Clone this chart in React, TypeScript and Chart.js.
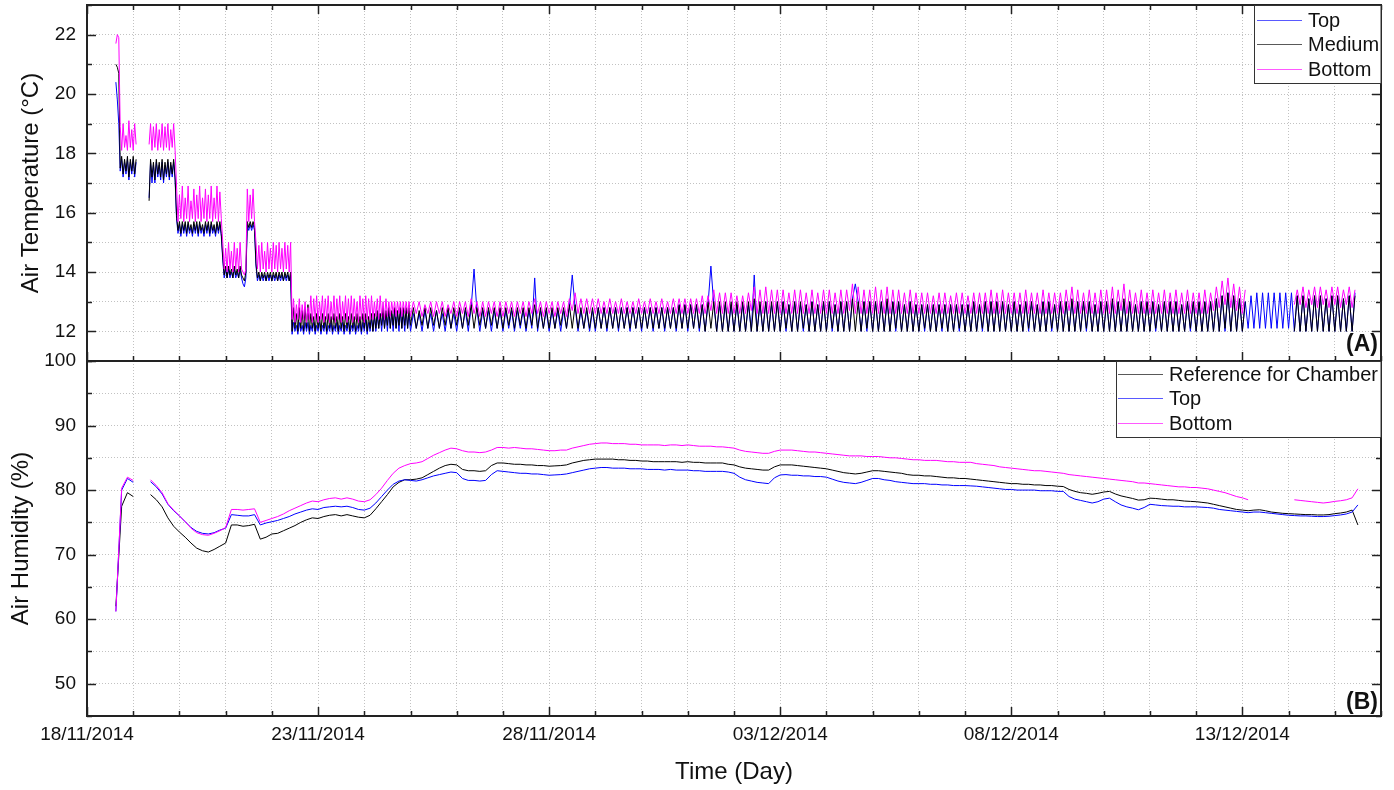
import React, { useEffect, useRef } from "react";
import { Chart, registerables } from "chart.js";

Chart.register(...registerables);

// ---------- axes ----------
const xMinDay = 0; // 18/11/2014 00:00
const xMaxDay = 28;
const xTickDays = [0, 5, 10, 15, 20, 25];
const xTickLabels = ["18/11/2014", "23/11/2014", "28/11/2014", "03/12/2014", "08/12/2014", "13/12/2014"];
const tempTickValues = [12, 14, 16, 18, 20, 22];
const humTickValues = [50, 60, 70, 80, 90, 100];

// ---------- panel A : air temperature ----------
// early part: one reading every 45 min from 18/11 15:00 to 25/11 00:00
const tempEarlyStartDay = 0.625;
const tempEarlyStepDay = 0.03125;
// late part: one reading every 1.5 h from 25/11 00:00
const tempLateStartDay = 7.0;
const tempLateStepDay = 0.0625;

const tempBottomEarly = [
  21.7, 22.0, 21.9, 18.9, 18.1, 19.0, 18.2, 18.6, 18.1, 19.1, 18.2, 18.8, 18.1, 19.0, 18.3, null,
  null, null, null, null, null, null, null, 18.3, 19.0, 18.1, 18.9, 18.2, 19.0, 18.1, 18.8, 18.2,
  19.0, 18.1, 18.9, 18.2, 19.0, 18.1, 18.8, 18.2, 19.0, 18.1, 16.9, 15.7, 16.6, 15.8, 16.9, 15.7,
  16.5, 15.8, 16.9, 15.7, 16.4, 15.8, 16.8, 15.7, 16.6, 15.8, 16.9, 15.7, 16.5, 15.8, 16.8, 15.7,
  16.6, 15.8, 16.9, 15.7, 16.5, 15.8, 16.9, 15.7, 16.7, 15.8, 15.0, 14.1, 14.8, 14.0, 15.0, 14.1,
  14.7, 14.0, 15.0, 14.1, 14.8, 14.0, 15.0, 14.1, 14.0, 13.9, 14.1, 16.8, 15.7, 16.6, 15.8, 16.8,
  15.7, 15.0, 14.1, 14.9, 14.0, 15.0, 14.1, 14.7, 14.0, 15.0, 14.1, 14.8, 14.0, 15.0, 14.1, 14.9,
  14.0, 15.0, 14.1, 14.8, 14.0, 15.0, 14.1, 14.9, 14.0, 15.0, 12.4, 13.1, 12.3, 12.9, 12.4, 13.1,
  12.3, 12.9, 12.4, 13.0, 12.3, 12.8, 12.4, 13.2, 12.3, 13.1, 12.4, 13.2, 12.3, 13.0, 12.4, 13.2,
  12.3, 13.1, 12.4, 13.2, 12.3, 13.0, 12.4, 13.2, 12.3, 13.1, 12.4, 13.2, 12.3, 13.0, 12.4, 13.2,
  12.3, 13.1, 12.4, 13.2, 12.3, 13.1, 12.4, 13.0, 12.3, 13.2, 12.4, 13.1, 12.3, 13.2, 12.4, 13.1,
  12.4, 13.2, 12.4, 13.0, 12.5, 13.1, 12.4, 13.2, 12.5, 13.0, 12.4, 13.1, 12.5, 13.0, 12.5, 13.0,
  12.6, 13.0, 12.5, 13.0, 12.6, 13.0, 12.5, 13.0, 12.6, 13.0, 12.6, 13.0,
];

const tempMediumEarly = [
  21.0, 20.9, 20.7, 17.5, 17.9, 17.3, 17.8, 17.4, 17.9, 17.2, 17.8, 17.4, 17.9, 17.3, 17.8, null,
  null, null, null, null, null, null, null, 16.4, 17.8, 17.2, 17.7, 17.1, 17.8, 17.3, 17.7, 17.2,
  17.8, 17.1, 17.7, 17.3, 17.8, 17.2, 17.7, 17.3, 17.8, 17.2, 15.9, 15.4, 15.7, 15.3, 15.7, 15.4,
  15.7, 15.3, 15.7, 15.4, 15.6, 15.3, 15.7, 15.4, 15.7, 15.3, 15.7, 15.4, 15.6, 15.3, 15.7, 15.4,
  15.7, 15.3, 15.7, 15.4, 15.6, 15.3, 15.7, 15.4, 15.7, 15.3, 14.5, 13.9, 14.2, 13.8, 14.2, 13.9,
  14.1, 13.8, 14.2, 13.9, 14.1, 13.8, 14.2, 13.9, 13.8, 13.7, 14.0, 15.7, 15.5, 15.7, 15.5, 15.7,
  15.5, 14.3, 13.8, 14.0, 13.7, 14.0, 13.8, 14.0, 13.7, 14.0, 13.8, 14.0, 13.7, 14.0, 13.8, 14.0,
  13.7, 14.0, 13.8, 14.0, 13.7, 14.0, 13.8, 14.0, 13.7, 14.0, 12.0, 12.8, 12.1, 12.6, 12.0, 12.8,
  12.1, 12.7, 12.0, 12.8, 12.1, 12.9, 12.0, 12.6, 12.1, 12.5, 12.0, 12.6, 12.1, 12.5, 12.0, 12.6,
  12.1, 12.5, 12.0, 12.6, 12.1, 12.5, 12.0, 12.6, 12.1, 12.5, 12.0, 12.6, 12.1, 12.5, 12.0, 12.6,
  12.1, 12.5, 12.0, 12.6, 12.1, 12.5, 12.0, 12.6, 12.1, 12.5, 12.0, 12.6, 12.1, 12.6, 12.0, 12.5,
  12.1, 12.6, 12.0, 12.6, 12.1, 12.7, 12.1, 12.6, 12.2, 12.8, 12.1, 12.7, 12.2, 12.8, 12.1, 12.7,
  12.2, 12.8, 12.1, 12.7, 12.2, 12.8, 12.1, 12.8, 12.2, 12.8, 12.1, 12.8,
];

const tempTopEarly = [
  20.4, 19.8, 19.0, 17.4, 17.8, 17.2, 17.7, 17.3, 17.8, 17.1, 17.7, 17.3, 17.8, 17.2, 17.7, null,
  null, null, null, null, null, null, null, 16.5, 17.7, 17.0, 17.6, 17.0, 17.7, 17.2, 17.6, 17.1,
  17.7, 17.0, 17.6, 17.2, 17.7, 17.1, 17.6, 17.2, 17.7, 17.1, 15.8, 15.3, 15.6, 15.2, 15.6, 15.3,
  15.6, 15.2, 15.6, 15.3, 15.5, 15.2, 15.6, 15.3, 15.6, 15.2, 15.6, 15.3, 15.5, 15.2, 15.6, 15.3,
  15.6, 15.2, 15.6, 15.3, 15.5, 15.2, 15.6, 15.3, 15.6, 15.2, 14.4, 13.8, 14.1, 13.8, 14.1, 13.8,
  14.0, 13.8, 14.1, 13.8, 14.0, 13.8, 14.1, 13.8, 13.6, 13.5, 13.8, 15.6, 15.4, 15.6, 15.4, 15.6,
  15.4, 14.2, 13.7, 13.9, 13.7, 13.9, 13.7, 13.9, 13.7, 13.9, 13.7, 13.9, 13.7, 13.9, 13.7, 13.9,
  13.7, 13.9, 13.7, 13.9, 13.7, 13.9, 13.7, 13.9, 13.7, 13.9, 11.9, 12.3, 12.0, 12.2, 11.9, 12.3,
  12.0, 12.2, 11.9, 12.3, 12.0, 12.3, 11.9, 12.2, 12.0, 12.3, 11.9, 12.2, 12.0, 12.3, 11.9, 12.2,
  12.0, 12.3, 11.9, 12.2, 12.0, 12.3, 11.9, 12.2, 12.0, 12.3, 11.9, 12.2, 12.0, 12.3, 11.9, 12.2,
  12.0, 12.3, 11.9, 12.2, 12.0, 12.3, 11.9, 12.2, 12.0, 12.3, 11.9, 12.3, 12.0, 12.4, 11.9, 12.3,
  12.0, 12.4, 12.0, 12.5, 12.0, 12.5, 12.1, 12.6, 12.0, 12.6, 12.1, 12.6, 12.0, 12.7, 12.1, 12.6,
  12.0, 12.7, 12.1, 12.6, 12.0, 12.7, 12.1, 12.6, 12.0, 12.7, 12.1, 12.6,
];

const tempBottomLate = [
  12.5, 13.0, 12.6, 13.0, 12.5, 12.9, 12.6, 13.0, 12.5, 13.0, 12.6, 13.0, 12.5, 12.9, 12.6, 13.0,
  12.5, 13.0, 12.6, 13.0, 12.5, 13.1, 12.6, 13.0, 12.5, 13.0, 12.5, 13.0, 12.6, 13.0, 12.5, 13.0,
  12.5, 13.0, 12.6, 13.0, 12.5, 13.0, 12.6, 13.0, 12.5, 13.0, 12.6, 13.1, 12.6, 13.0, 12.5, 13.0,
  12.6, 13.0, 12.5, 13.0, 12.6, 13.0, 12.5, 13.1, 12.7, 13.3, 12.6, 13.1, 12.6, 13.1, 12.6, 13.1,
  12.6, 13.1, 12.6, 13.0, 12.6, 13.1, 12.6, 13.0, 12.6, 13.1, 12.6, 13.0, 12.6, 13.0, 12.6, 13.1,
  12.6, 13.0, 12.6, 13.1, 12.6, 13.0, 12.6, 13.1, 12.6, 13.0, 12.6, 13.1, 12.6, 13.1, 12.6, 13.1,
  12.6, 13.1, 12.6, 13.1, 12.6, 13.2, 12.6, 13.2, 12.7, 13.4, 12.6, 13.3, 12.6, 13.3, 12.6, 13.3,
  12.6, 13.2, 12.6, 13.2, 12.6, 13.3, 12.7, 13.5, 12.6, 13.4, 12.6, 13.5, 12.6, 13.4, 12.6, 13.4,
  12.6, 13.4, 12.6, 13.3, 12.6, 13.4, 12.6, 13.4, 12.6, 13.3, 12.6, 13.4, 12.6, 13.3, 12.6, 13.4,
  12.6, 13.4, 12.6, 13.3, 12.6, 13.4, 12.6, 13.4, 12.7, 13.6, 12.6, 13.5, 12.6, 13.4, 12.6, 13.4,
  12.6, 13.5, 12.6, 13.4, 12.6, 13.5, 12.6, 13.4, 12.6, 13.4, 12.6, 13.3, 12.6, 13.4, 12.6, 13.3,
  12.6, 13.3, 12.6, 13.3, 12.6, 13.2, 12.6, 13.3, 12.6, 13.3, 12.6, 13.2, 12.6, 13.3, 12.6, 13.3,
  12.6, 13.2, 12.6, 13.3, 12.6, 13.3, 12.6, 13.3, 12.6, 13.4, 12.6, 13.3, 12.6, 13.4, 12.6, 13.3,
  12.6, 13.3, 12.6, 13.3, 12.6, 13.4, 12.6, 13.3, 12.6, 13.3, 12.6, 13.4, 12.6, 13.3, 12.6, 13.3,
  12.6, 13.3, 12.6, 13.4, 12.7, 13.5, 12.6, 13.4, 12.6, 13.3, 12.6, 13.4, 12.6, 13.3, 12.6, 13.4,
  12.6, 13.4, 12.6, 13.5, 12.6, 13.4, 12.7, 13.6, 12.6, 13.4, 12.6, 13.3, 12.6, 13.4, 12.6, 13.3,
  12.6, 13.4, 12.6, 13.3, 12.6, 13.4, 12.6, 13.3, 12.6, 13.4, 12.6, 13.3, 12.6, 13.4, 12.6, 13.3,
  12.6, 13.3, 12.6, 13.4, 12.6, 13.3, 12.7, 13.5, 12.8, 13.7, 12.9, 13.8, 12.8, 13.6, 12.7, 13.5,
  12.6, 13.4, null, null, null, null, null, null, null, null, null, null, null, null, null, null,
  null, null, 12.9, 13.4, 12.9, 13.5, 12.8, 13.4, 12.9, 13.5, 12.8, 13.5, 12.9, 13.4, 12.8, 13.5,
  12.9, 13.5, 12.8, 13.4, 12.9, 13.5, 12.8, 13.4,
];

const tempMediumLate = [
  12.2, 12.8, 12.1, 12.7, 12.2, 12.8, 12.1, 12.8, 12.2, 12.7, 12.1, 12.8, 12.2, 12.8, 12.1, 12.8,
  12.2, 12.8, 12.1, 12.8, 12.2, 12.9, 12.1, 12.8, 12.2, 12.8, 12.1, 12.8, 12.2, 12.8, 12.1, 12.8,
  12.1, 12.8, 12.2, 12.8, 12.1, 12.8, 12.2, 12.8, 12.1, 12.8, 12.2, 12.9, 12.1, 12.8, 12.1, 12.8,
  12.1, 12.8, 12.1, 12.8, 12.2, 12.8, 12.1, 12.9, 12.1, 12.9, 12.1, 12.8, 12.1, 12.8, 12.1, 12.8,
  12.1, 12.8, 12.1, 12.8, 12.1, 12.8, 12.1, 12.8, 12.1, 12.8, 12.1, 12.8, 12.1, 12.8, 12.1, 12.8,
  12.1, 12.8, 12.1, 12.8, 12.1, 12.8, 12.1, 12.8, 12.1, 12.8, 12.1, 12.8, 12.1, 12.9, 12.1, 12.9,
  12.1, 12.9, 12.1, 12.9, 12.1, 12.9, 12.0, 13.0, 12.1, 13.0, 12.0, 13.0, 12.0, 13.0, 12.0, 13.0,
  12.0, 13.0, 12.0, 13.0, 12.0, 13.0, 12.0, 13.1, 12.0, 13.0, 12.0, 13.0, 12.0, 13.0, 12.0, 13.0,
  12.0, 13.0, 12.1, 12.9, 12.0, 13.0, 12.0, 13.0, 12.1, 12.9, 12.0, 13.0, 12.0, 12.9, 12.0, 13.0,
  12.0, 13.0, 12.1, 12.9, 12.0, 13.0, 12.0, 13.0, 12.0, 13.1, 12.0, 13.0, 12.0, 13.0, 12.1, 13.0,
  12.0, 13.0, 12.0, 13.0, 12.0, 13.1, 12.0, 13.0, 12.1, 13.0, 12.0, 12.9, 12.0, 13.0, 12.0, 12.9,
  12.0, 12.9, 12.1, 12.9, 12.0, 12.9, 12.0, 12.9, 12.1, 12.9, 12.0, 12.9, 12.0, 12.9, 12.1, 12.9,
  12.0, 12.9, 12.0, 13.0, 12.0, 12.9, 12.1, 13.0, 12.0, 13.0, 12.0, 13.0, 12.0, 13.0, 12.0, 12.9,
  12.0, 13.0, 12.0, 12.9, 12.0, 13.0, 12.1, 13.0, 12.0, 12.9, 12.0, 13.0, 12.0, 13.0, 12.1, 12.9,
  12.0, 13.0, 12.0, 13.0, 12.0, 13.1, 12.0, 13.0, 12.0, 13.0, 12.1, 13.0, 12.0, 12.9, 12.0, 13.0,
  12.0, 13.0, 12.0, 13.1, 12.0, 13.0, 12.0, 13.1, 12.0, 13.0, 12.0, 12.9, 12.0, 13.0, 12.0, 13.0,
  12.0, 13.0, 12.1, 12.9, 12.0, 13.0, 12.0, 13.0, 12.0, 13.0, 12.0, 12.9, 12.0, 13.0, 12.1, 13.0,
  12.0, 13.0, 12.0, 13.0, 12.0, 13.0, 12.0, 13.1, 12.0, 13.2, 12.1, 13.3, 12.0, 13.2, 12.0, 13.1,
  12.0, 13.0, null, null, null, null, null, null, null, null, null, null, null, null, null, null,
  null, null, 12.0, 13.2, 12.0, 13.2, 12.0, 13.1, 12.0, 13.2, 12.0, 13.2, 12.0, 13.1, 12.0, 13.2,
  12.0, 13.2, 12.0, 13.1, 12.0, 13.2, 12.0, 13.2,
];

const tempTopLate = [
  12.0, 12.6, 12.1, 12.6, 12.0, 12.7, 12.1, 12.6, 12.0, 12.7, 12.1, 12.6, 12.0, 12.7, 12.1, 12.6,
  12.0, 12.7, 12.1, 12.7, 12.0, 12.8, 14.1, 12.7, 12.0, 12.7, 12.1, 12.7, 12.0, 12.7, 12.1, 12.7,
  12.0, 12.7, 12.1, 12.7, 12.0, 12.7, 12.1, 12.7, 12.0, 12.7, 12.1, 13.8, 12.0, 12.7, 12.1, 12.7,
  12.0, 12.7, 12.1, 12.7, 12.0, 12.7, 12.1, 12.8, 13.9, 12.8, 12.0, 12.7, 12.1, 12.7, 12.0, 12.7,
  12.0, 12.8, 12.1, 12.8, 12.0, 12.8, 12.1, 12.8, 12.0, 12.8, 12.1, 12.8, 12.0, 12.8, 12.1, 12.8,
  12.0, 12.8, 12.1, 12.8, 12.0, 12.8, 12.1, 12.8, 12.0, 12.8, 12.1, 12.8, 12.0, 12.9, 12.1, 12.9,
  12.0, 12.9, 12.1, 12.9, 12.0, 12.9, 12.0, 12.9, 14.2, 12.9, 12.0, 12.9, 12.0, 12.9, 12.0, 12.9,
  12.0, 12.9, 12.0, 12.9, 12.0, 12.9, 12.0, 13.9, 12.0, 12.9, 12.0, 13.0, 12.0, 12.9, 12.0, 13.0,
  12.0, 13.0, 12.0, 12.9, 12.0, 13.0, 12.0, 12.9, 12.0, 12.9, 12.0, 13.0, 12.0, 12.9, 12.0, 13.0,
  12.0, 13.0, 12.0, 12.9, 12.0, 13.0, 12.0, 13.0, 12.0, 13.1, 13.6, 13.0, 12.0, 13.0, 12.0, 13.0,
  12.0, 13.0, 12.0, 13.0, 12.0, 13.0, 12.0, 13.0, 12.0, 13.0, 12.0, 12.9, 12.0, 13.0, 12.0, 12.9,
  12.0, 12.9, 12.0, 12.9, 12.0, 12.9, 12.0, 12.9, 12.0, 12.9, 12.0, 12.9, 12.0, 12.9, 12.0, 12.9,
  12.0, 12.9, 12.0, 13.0, 12.0, 12.9, 12.0, 13.0, 12.0, 13.0, 12.0, 13.0, 12.0, 13.0, 12.0, 12.9,
  12.0, 13.0, 12.0, 12.9, 12.0, 13.0, 12.0, 13.0, 12.0, 12.9, 12.0, 13.0, 12.0, 13.0, 12.0, 12.9,
  12.0, 13.0, 12.0, 13.0, 12.0, 13.0, 12.0, 13.0, 12.0, 13.0, 12.0, 13.0, 12.0, 12.9, 12.0, 13.0,
  12.0, 13.0, 12.0, 13.0, 12.0, 13.0, 12.0, 13.0, 12.0, 13.0, 12.0, 12.9, 12.0, 13.0, 12.0, 13.0,
  12.0, 13.0, 12.0, 12.9, 12.0, 13.0, 12.0, 13.0, 12.0, 13.0, 12.0, 12.9, 12.0, 13.0, 12.0, 13.0,
  12.0, 13.0, 12.0, 13.0, 12.0, 13.0, 12.0, 13.1, 12.0, 13.2, 12.0, 13.3, 12.0, 13.2, 12.0, 13.1,
  12.0, 13.0, 12.1, 13.2, 12.1, 13.3, 12.1, 13.3, 12.1, 13.3, 12.1, 13.3, 12.1, 13.3, 12.1, 13.3,
  12.1, 13.3, 12.0, 13.2, 12.0, 13.2, 12.0, 13.1, 12.0, 13.2, 12.0, 13.2, 12.0, 13.1, 12.0, 13.2,
  12.0, 13.2, 12.0, 13.1, 12.0, 13.2, 12.0, 13.3,
];

// ---------- panel B : air humidity, one reading every 3 h from 18/11 15:00 ----------
const humStartDay = 0.625;
const humStepDay = 0.125;

const humReference = [
  62.0, 77.5, 79.6, 79.0, null, null, 79.3, 78.5,
  77.4, 75.7, 74.4, 73.5, 72.7, 71.8, 71.0, 70.6,
  70.4, 70.8, 71.3, 71.8, 74.6, 74.6, 74.4, 74.5,
  74.7, 72.4, 72.7, 73.2, 73.3, 73.7, 74.1, 74.5,
  75.0, 75.4, 75.7, 75.6, 75.9, 76.1, 76.2, 76.0,
  76.2, 76.0, 75.8, 75.7, 76.1, 77.1, 78.2, 79.3,
  80.5, 81.2, 81.6, 81.6, 81.7, 81.9, 82.4, 82.9,
  83.4, 83.8, 84.0, 83.9, 83.2, 83.0, 83.0, 82.9,
  83.0, 83.8, 84.2, 84.2, 84.1, 84.0, 84.0, 83.9,
  83.9, 83.8, 83.8, 83.7, 83.75, 83.8, 83.9, 84.2,
  84.4, 84.6, 84.7, 84.8, 84.8, 84.8, 84.8, 84.7,
  84.7, 84.6, 84.6, 84.5, 84.5, 84.4, 84.4, 84.4,
  84.4, 84.4, 84.3, 84.4, 84.3, 84.3, 84.2, 84.2,
  84.2, 84.2, 84.0, 83.9, 83.6, 83.4, 83.3, 83.2,
  83.1, 83.1, 83.6, 83.9, 83.9, 83.9, 83.8, 83.7,
  83.6, 83.5, 83.4, 83.3, 83.1, 82.9, 82.7, 82.6,
  82.5, 82.6, 82.8, 83.0, 83.0, 82.9, 82.8, 82.7,
  82.6, 82.4, 82.3, 82.3, 82.2, 82.2, 82.1, 82.0,
  81.9, 81.9, 81.8, 81.8, 81.7, 81.6, 81.5, 81.4,
  81.3, 81.2, 81.1, 81.0, 81.0, 80.9, 80.9, 80.8,
  80.8, 80.7, 80.7, 80.6, 80.55, 80.1, 79.8, 79.6,
  79.5, 79.35, 79.5, 79.7, 79.8, 79.4, 79.1, 78.9,
  78.7, 78.45, 78.5, 78.75, 78.7, 78.6, 78.5, 78.5,
  78.4, 78.3, 78.25, 78.2, 78.1, 78.0, 77.8, 77.6,
  77.4, 77.2, 77.0, 76.9, 76.8, 76.9, 76.95, 76.8,
  76.6, 76.5, 76.4, 76.35, 76.3, 76.25, 76.2, 76.2,
  76.15, 76.15, 76.2, 76.35, 76.45, 76.6, 76.9, 74.6,
];

const humTop = [
  61.2, 80.0, 81.8, 81.2, null, null, 81.3, 80.5,
  79.4, 77.8, 76.8, 76.0, 75.1, 74.2, 73.6, 73.3,
  73.2, 73.4, 73.8, 74.1, 76.2, 76.1, 76.0, 76.0,
  76.2, 74.6, 74.9, 75.1, 75.3, 75.6, 75.9, 76.3,
  76.6, 76.9, 77.1, 77.0, 77.3, 77.4, 77.5, 77.4,
  77.5, 77.3, 77.0, 76.9, 77.2, 78.0, 79.0, 80.0,
  80.9, 81.4, 81.6, 81.5, 81.4, 81.6, 81.9, 82.2,
  82.4, 82.6, 82.8, 82.7, 81.8, 81.5, 81.5, 81.4,
  81.5, 82.4, 83.0, 82.9, 82.8, 82.7, 82.6, 82.6,
  82.5, 82.5, 82.4, 82.3, 82.35, 82.4, 82.5, 82.7,
  82.9, 83.1, 83.3, 83.4, 83.5, 83.5, 83.4, 83.4,
  83.4, 83.3, 83.3, 83.3, 83.2, 83.2, 83.2, 83.1,
  83.2, 83.1, 83.1, 83.1, 83.0, 83.0, 82.9, 82.9,
  82.9, 82.9, 82.8, 82.6, 82.0, 81.6, 81.4, 81.2,
  81.1, 81.0, 81.9, 82.35, 82.4, 82.3, 82.3, 82.2,
  82.2, 82.1, 82.1, 82.0, 81.7, 81.4, 81.2, 81.1,
  81.0, 81.2, 81.5, 81.8, 81.8, 81.6, 81.5, 81.3,
  81.2, 81.1, 81.0, 81.0, 81.0, 80.9, 80.9, 80.8,
  80.8, 80.7, 80.7, 80.7, 80.65, 80.6, 80.5, 80.4,
  80.3, 80.2, 80.1, 80.1, 80.0, 80.0, 80.0, 80.0,
  79.9, 79.9, 79.9, 79.8, 79.8, 79.0, 78.6, 78.4,
  78.2, 78.0, 78.2, 78.6, 78.75, 78.2, 77.7, 77.4,
  77.2, 76.95, 77.3, 77.8, 77.7, 77.6, 77.55, 77.5,
  77.5, 77.4, 77.4, 77.4, 77.35, 77.3, 77.2, 77.0,
  76.9, 76.8, 76.7, 76.6, 76.5, 76.6, 76.6, 76.5,
  76.4, 76.3, 76.2, 76.1, 76.05, 76.0, 76.0, 75.95,
  75.9, 75.9, 75.95, 76.05, 76.15, 76.3, 76.6, 77.7,
];

const humBottom = [
  61.2, 80.3, 82.0, 81.5, null, null, 81.6, 80.7,
  79.6, 77.9, 76.9, 76.0, 75.1, 74.1, 73.4, 73.1,
  73.0, 73.3, 73.7, 74.2, 77.0, 77.0, 76.9, 77.0,
  77.1, 75.0, 75.3, 75.6, 75.9, 76.3, 76.8, 77.2,
  77.6, 78.0, 78.3, 78.2, 78.5, 78.7, 78.8, 78.6,
  78.8, 78.6, 78.3, 78.2, 78.5, 79.3, 80.3, 81.5,
  82.6, 83.4, 83.8, 84.1, 84.2, 84.4, 84.9, 85.4,
  85.8, 86.2, 86.5, 86.4, 86.1, 85.9, 85.9, 85.8,
  85.9, 86.2, 86.6, 86.6, 86.5, 86.6, 86.5, 86.4,
  86.4, 86.3, 86.2, 86.1, 86.1, 86.2, 86.2, 86.5,
  86.7, 86.9, 87.1, 87.2, 87.3, 87.3, 87.2, 87.2,
  87.2, 87.1, 87.1, 87.0, 87.0, 87.0, 87.0, 86.9,
  87.0, 87.0, 86.9, 87.0, 86.9, 86.8, 86.8, 86.8,
  86.7, 86.7, 86.6, 86.5, 86.2, 86.0, 85.9, 85.8,
  85.7, 85.7, 86.0, 86.2, 86.2, 86.2, 86.1, 86.0,
  85.9, 85.9, 85.8, 85.7, 85.6, 85.5, 85.4, 85.3,
  85.3, 85.3, 85.2, 85.2, 85.2, 85.1, 85.0, 85.0,
  84.9, 84.8, 84.7, 84.7, 84.6, 84.6, 84.6, 84.5,
  84.4, 84.4, 84.3, 84.3, 84.3, 84.1, 84.0, 83.9,
  83.8, 83.6, 83.5, 83.4, 83.3, 83.2, 83.1, 83.0,
  83.0, 82.9, 82.8, 82.7, 82.6, 82.4, 82.3, 82.2,
  82.1, 82.0, 81.9, 81.8, 81.7, 81.6, 81.5, 81.4,
  81.3, 81.1, 81.1, 81.0, 80.9, 80.8, 80.7, 80.6,
  80.5, 80.5, 80.4, 80.4, 80.3, 80.2, 80.0, 79.8,
  79.6, 79.3, 79.0, 78.8, 78.5, null, null, null,
  null, null, null, null, 78.5, 78.4, 78.3, 78.2,
  78.1, 78.0, 78.1, 78.25, 78.35, 78.5, 78.8, 80.2,
];

// ---------- rendering ----------
const FONT = '"Liberation Sans", Arial, Helvetica, sans-serif';
const TEXT = "#111111";
const BLUE = "#0000ff";
const BLACK = "#000000";
const MAGENTA = "#ff00ff";

function toPoints(values: (number | null)[], start: number, step: number) {
  return values.map((v, i) => ({ x: start + i * step, y: v }));
}

function tempPoints(early: (number | null)[], late: (number | null)[]) {
  return toPoints(early, tempEarlyStartDay, tempEarlyStepDay).concat(
    toPoints(late, tempLateStartDay, tempLateStepDay)
  );
}

function near(list: number[], v: number) {
  return list.some((m) => Math.abs(m - v) < 1e-6);
}

type Deco = {
  topTicks: boolean;
  yMajor: number[];
  tag: string;
  tagLift: number;
  legendOrder: string[];
  legendLeft: number;
  legendHeight: number;
  lineX0: number;
  lineX1: number;
  textX: number;
  rows: number[];
};

function decoPlugin(id: string, d: Deco) {
  return {
    id,
    afterDraw(chart: any) {
      const { ctx, chartArea: a, scales } = chart;
      const xs = scales.x;
      const ys = scales.y;
      ctx.save();
      ctx.strokeStyle = "#222";
      ctx.lineWidth = 1.5;
      const seg = (x0: number, y0: number, x1: number, y1: number) => {
        ctx.beginPath();
        ctx.moveTo(x0, y0);
        ctx.lineTo(x1, y1);
        ctx.stroke();
      };
      for (const t of xs.ticks) {
        const px = Math.round(xs.getPixelForValue(t.value)) + 0.5;
        const len = near(xTickDays, t.value) ? 9 : 5;
        seg(px, a.bottom, px, a.bottom - len);
        if (d.topTicks) seg(px, a.top, px, a.top + len);
      }
      for (const t of ys.ticks) {
        const py = Math.round(ys.getPixelForValue(t.value)) + 0.5;
        const len = near(d.yMajor, t.value) ? 9 : 5;
        seg(a.left, py, a.left + len, py);
        seg(a.right, py, a.right - len, py);
      }
      ctx.lineWidth = 2;
      ctx.strokeStyle = "#222";
      ctx.strokeRect(a.left, a.top, a.right - a.left, a.bottom - a.top);
      ctx.fillStyle = TEXT;
      ctx.font = `bold 23px ${FONT}`;
      ctx.textAlign = "right";
      ctx.textBaseline = "alphabetic";
      ctx.fillText(d.tag, a.right - 3, a.bottom - d.tagLift);
      const bx = d.legendLeft;
      const by = a.top;
      const bw = a.right - bx;
      ctx.fillStyle = "#ffffff";
      ctx.fillRect(bx, by, bw, d.legendHeight);
      ctx.lineWidth = 1;
      ctx.strokeStyle = "#333";
      ctx.strokeRect(bx + 0.5, by + 0.5, bw - 0.5, d.legendHeight);
      ctx.font = `20px ${FONT}`;
      ctx.textAlign = "left";
      ctx.textBaseline = "middle";
      d.legendOrder.forEach((label, k) => {
        const ds = chart.data.datasets.find((s: any) => s.label === label);
        const ry = by + d.rows[k];
        ctx.save();
        ctx.globalAlpha = 0.65;
        ctx.strokeStyle = ds.borderColor;
        ctx.lineWidth = 1.2;
        seg(d.lineX0, Math.round(ry) + 0.5, d.lineX1, Math.round(ry) + 0.5);
        ctx.restore();
        ctx.fillStyle = TEXT;
        ctx.fillText(label, d.textX, ry + 1);
      });
      ctx.restore();
    },
  };
}

const gridOpts = { color: "#c2c2c2", lineWidth: 1, drawTicks: false };
const borderOpts = { display: false, dash: [1, 2] };

function lineSet(label: string, color: string, data: any[]) {
  return {
    label,
    data,
    borderColor: color,
    backgroundColor: color,
    borderWidth: 1,
    pointRadius: 0,
    tension: 0,
    spanGaps: false,
    fill: false,
  };
}

export default function App() {
  const topRef = useRef<HTMLCanvasElement>(null);
  const botRef = useRef<HTMLCanvasElement>(null);

  useEffect(() => {
    const common: any = {
      responsive: false,
      animation: false,
      events: [],
      plugins: { legend: { display: false }, tooltip: { enabled: false } },
    };

    const top = new Chart(topRef.current as HTMLCanvasElement, {
      type: "line",
      data: {
        datasets: [
          lineSet("Bottom", MAGENTA, tempPoints(tempBottomEarly, tempBottomLate)),
          lineSet("Medium", BLACK, tempPoints(tempMediumEarly, tempMediumLate)),
          lineSet("Top", BLUE, tempPoints(tempTopEarly, tempTopLate)),
        ],
      },
      options: {
        ...common,
        layout: { padding: { top: 35, right: 13, bottom: 39, left: 0 } },
        scales: {
          x: {
            type: "linear",
            min: xMinDay,
            max: xMaxDay,
            ticks: { display: false, stepSize: 1 },
            grid: gridOpts,
            border: borderOpts,
            afterFit: (s: any) => {
              s.height = 0;
            },
          },
          y: {
            type: "linear",
            min: 11,
            max: 23,
            ticks: {
              stepSize: 1,
              padding: 11,
              autoSkip: false,
              color: TEXT,
              font: { family: FONT, size: 19 },
              callback: (v: any) => (near(tempTickValues, Number(v)) ? String(Math.round(Number(v))) : ""),
            },
            grid: gridOpts,
            border: borderOpts,
            title: {
              display: true,
              text: "Air Temperature (°C)",
              color: TEXT,
              font: { family: FONT, size: 24 },
              padding: { top: 17, bottom: 0 },
            },
            afterFit: (s: any) => {
              s.width = 87;
            },
          },
        },
      },
      plugins: [
        decoPlugin("decoA", {
          topTicks: true,
          yMajor: tempTickValues,
          tag: "(A)",
          tagLift: 10,
          legendOrder: ["Top", "Medium", "Bottom"],
          legendLeft: 1254,
          legendHeight: 78,
          lineX0: 1257,
          lineX1: 1302,
          textX: 1308,
          rows: [15, 39, 64],
        }),
      ],
    } as any);

    const bot = new Chart(botRef.current as HTMLCanvasElement, {
      type: "line",
      data: {
        datasets: [
          lineSet("Bottom", MAGENTA, toPoints(humBottom, humStartDay, humStepDay)),
          lineSet("Top", BLUE, toPoints(humTop, humStartDay, humStepDay)),
          lineSet("Reference for Chamber", BLACK, toPoints(humReference, humStartDay, humStepDay)),
        ],
      },
      options: {
        ...common,
        layout: { padding: { top: 31, right: 13, bottom: 0, left: 0 } },
        scales: {
          x: {
            type: "linear",
            min: xMinDay,
            max: xMaxDay,
            ticks: {
              stepSize: 1,
              autoSkip: false,
              maxRotation: 0,
              minRotation: 0,
              padding: 7,
              color: TEXT,
              font: { family: FONT, size: 19 },
              callback: (v: any) => {
                const k = xTickDays.findIndex((d) => Math.abs(d - Number(v)) < 1e-6);
                return k >= 0 ? xTickLabels[k] : "";
              },
            },
            grid: gridOpts,
            border: borderOpts,
            title: {
              display: true,
              text: "Time (Day)",
              color: TEXT,
              font: { family: FONT, size: 24 },
              padding: { top: 0, bottom: 3 },
            },
            afterFit: (s: any) => {
              s.height = 74;
            },
          },
          y: {
            type: "linear",
            min: 45,
            max: 100,
            ticks: {
              stepSize: 5,
              padding: 11,
              autoSkip: false,
              color: TEXT,
              font: { family: FONT, size: 19 },
              callback: (v: any) => (near(humTickValues, Number(v)) ? String(Math.round(Number(v))) : ""),
            },
            grid: gridOpts,
            border: borderOpts,
            title: {
              display: true,
              text: "Air Humidity (%)",
              color: TEXT,
              font: { family: FONT, size: 24 },
              padding: { top: 7, bottom: 0 },
            },
            afterFit: (s: any) => {
              s.width = 87;
            },
          },
        },
      },
      plugins: [
        decoPlugin("decoB", {
          topTicks: false,
          yMajor: humTickValues,
          tag: "(B)",
          tagLift: 7,
          legendOrder: ["Reference for Chamber", "Top", "Bottom"],
          legendLeft: 1116,
          legendHeight: 76,
          lineX0: 1118,
          lineX1: 1163,
          textX: 1169,
          rows: [13, 37, 62],
        }),
      ],
    } as any);

    return () => {
      top.destroy();
      bot.destroy();
    };
  }, []);

  return (
    <div
      style={{
        position: "fixed",
        left: 0,
        top: 0,
        width: 1394,
        height: 790,
        background: "#ffffff",
        overflow: "hidden",
      }}
    >
      <canvas
        ref={topRef}
        width={1394}
        height={430}
        style={{ position: "absolute", left: 0, top: -30, width: 1394, height: 430 }}
      />
      <canvas
        ref={botRef}
        width={1394}
        height={460}
        style={{ position: "absolute", left: 0, top: 330, width: 1394, height: 460 }}
      />
    </div>
  );
}
